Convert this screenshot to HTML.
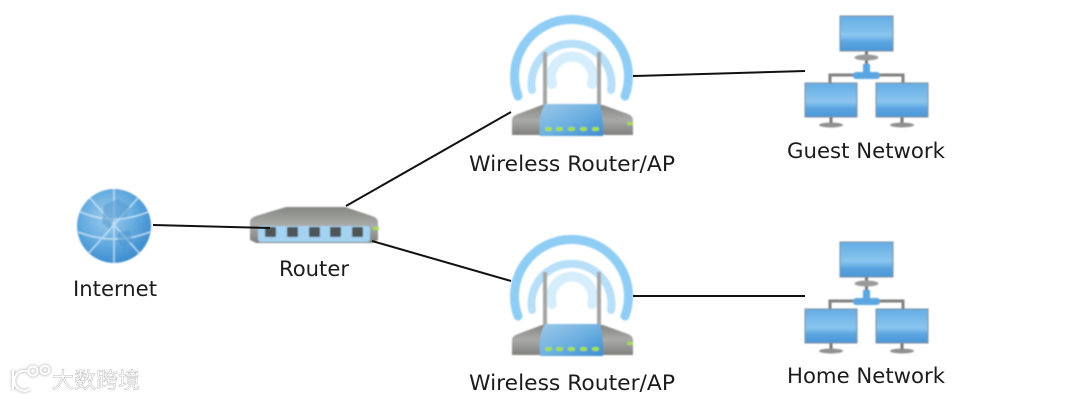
<!DOCTYPE html>
<html>
<head>
<meta charset="utf-8">
<style>
html,body{margin:0;padding:0;background:#fff}
svg{display:block}
text{font-family:"DejaVu Sans","Liberation Sans",sans-serif;font-size:21px;fill:#1c1c1c}
.wm{font-family:"Liberation Sans","Noto Sans CJK SC",sans-serif;font-size:22px;fill:#fff;stroke:#bdbdbd;stroke-width:.5px}
</style>
</head>
<body>
<svg width="1080" height="400" viewBox="0 0 1080 400" xmlns="http://www.w3.org/2000/svg">
<defs>
<filter id="b" x="-10%" y="-10%" width="120%" height="120%"><feGaussianBlur stdDeviation="0.7"/></filter>
<filter id="s" x="-10%" y="-30%" width="120%" height="160%"><feGaussianBlur stdDeviation="1"/></filter>
<linearGradient id="mon" x1="0" y1="0" x2="0" y2="1"><stop offset="0" stop-color="#62ace4"/><stop offset=".55" stop-color="#8ac5ee"/><stop offset=".75" stop-color="#5aa4df"/><stop offset="1" stop-color="#4a97d8"/></linearGradient>
<linearGradient id="gray" x1="0" y1="0" x2="0" y2="1"><stop offset="0" stop-color="#858683"/><stop offset=".5" stop-color="#a9aaa7"/><stop offset="1" stop-color="#7f807e"/></linearGradient>
<linearGradient id="blue" x1="0" y1="0" x2="1" y2="1"><stop offset="0" stop-color="#9cc8e8"/><stop offset=".55" stop-color="#6aaee0"/><stop offset="1" stop-color="#3c8cd0"/></linearGradient>
<radialGradient id="globe" cx=".42" cy=".38" r=".65"><stop offset="0" stop-color="#a0cdec"/><stop offset=".6" stop-color="#5fa8de"/><stop offset="1" stop-color="#3a8acf"/></radialGradient>
<g id="ap" filter="url(#b)">
<path d="M518 96A57 57 0 1 1 625 96" fill="none" stroke="#8fcdf5" stroke-width="9" stroke-linecap="round"/>
<path d="M532 90A40 40 0 1 1 611 90" fill="none" stroke="#b7dff8" stroke-width="8" stroke-linecap="round"/>
<path d="M552 84A21 21 0 1 1 592 84" fill="none" stroke="#d6edfb" stroke-width="10" stroke-linecap="round"/>
<rect x="543" y="52" width="4" height="56" fill="#a5a6a5"/>
<rect x="597" y="52" width="4" height="56" fill="#a5a6a5"/>
<path d="M512 120Q512 116 518 114L542 105H603L628 114Q633 116 633 120V135H512Z" fill="url(#gray)"/>
<path d="M545 104H600Q604 120 603 136H540Q538 115 545 104Z" fill="url(#blue)"/>
<g fill="#a4e04a">
<rect x="545" y="127" width="7" height="4" rx="2"/><rect x="556" y="127" width="7" height="4" rx="2"/><rect x="568" y="127" width="7" height="4" rx="2"/><rect x="580" y="127" width="7" height="4" rx="2"/><rect x="592" y="127" width="7" height="4" rx="2"/>
<rect x="627" y="122" width="6" height="3" rx="1.500"/>
</g>
</g>
<g id="net" filter="url(#b)">
<path d="M830 83V75H903V83" fill="none" stroke="#7f7f7f" stroke-width="3"/>
<rect x="865" y="50" width="3" height="15" fill="#777"/>
<ellipse cx="866.500" cy="57.500" rx="12" ry="3" fill="#999"/>
<rect x="863" y="64" width="7" height="9" fill="#5aa6e0"/>
<rect x="853" y="72" width="27" height="7" rx="3" fill="#5aa6e0"/>
<rect x="840" y="16" width="53" height="35" fill="url(#mon)" stroke="#7f8c95"/>
<rect x="829.500" y="117" width="3" height="8" fill="#777"/>
<ellipse cx="831" cy="125" rx="12" ry="2.500" fill="#8f8f8f"/>
<rect x="900.500" y="117" width="3" height="8" fill="#777"/>
<ellipse cx="902" cy="125" rx="12" ry="2.500" fill="#8f8f8f"/>
<rect x="805" y="83" width="52" height="34" fill="url(#mon)" stroke="#7f8c95"/>
<rect x="876" y="83" width="52" height="34" fill="url(#mon)" stroke="#7f8c95"/>
</g>
</defs>

<rect width="1080" height="400" fill="#fff"/>

<g filter="url(#b)">
<circle cx="114" cy="226" r="37" fill="url(#globe)"/>
<g fill="none" stroke="#cfe8f8" stroke-width="1.500" opacity=".8">
<path d="M80 212Q114 226 148 212M78 232Q114 246 150 232M90 198L140 254M138 198L88 254M114 189V263"/>
</g>
<path d="M104 205l14-6 12 8-4 10-12 2-4 10-8-6zM118 232l12-2 2 10-8 10-6-8z" fill="#4d93cd" opacity=".5"/>
</g>

<g filter="url(#b)">
<path d="M250 222Q250 218 256 216L286 207H345L372 216Q378 218 378 222V240L372 243H256L250 240Z" fill="url(#gray)"/>
<rect x="258" y="226" width="112" height="16" rx="3" fill="#a4d2f1"/>
<g fill="#4e5459">
<rect x="265" y="227" width="11" height="10" rx="1"/><rect x="287" y="227" width="11" height="10" rx="1"/><rect x="309" y="227" width="11" height="10" rx="1"/><rect x="330" y="227" width="11" height="10" rx="1"/><rect x="352" y="227" width="11" height="10" rx="1"/>
</g>
<rect x="373" y="227" width="6" height="3" fill="#a4e04a"/>
</g>

<use href="#ap"/>
<use href="#ap" y="220"/>
<use href="#net"/>
<use href="#net" y="226"/>

<g stroke="#111" stroke-width="2" fill="none">
<line x1="153" y1="225" x2="270" y2="228"/>
<line x1="346" y1="206" x2="511" y2="112"/>
<line x1="372" y1="241" x2="511" y2="281"/>
<line x1="633" y1="76" x2="805" y2="71"/>
<line x1="633" y1="296" x2="805" y2="296"/>
</g>

<text x="469" y="171" textLength="206" lengthAdjust="spacingAndGlyphs">Wireless Router/AP</text>
<text x="469" y="390" textLength="206" lengthAdjust="spacingAndGlyphs">Wireless Router/AP</text>
<text x="787" y="158" textLength="158" lengthAdjust="spacingAndGlyphs">Guest Network</text>
<text x="787" y="383" textLength="158" lengthAdjust="spacingAndGlyphs">Home Network</text>
<text x="279" y="276" textLength="70" lengthAdjust="spacingAndGlyphs">Router</text>
<text x="73" y="296" textLength="84" lengthAdjust="spacingAndGlyphs">Internet</text>

<g fill="none" stroke="#cfcfcf" stroke-width="4" filter="url(#s)">
<path d="M13 370V390"/>
<path d="M29 372A10 10 0 1 0 30 389"/>
<circle cx="33" cy="371" r="4.500"/>
<ellipse cx="45" cy="370" rx="4.500" ry="4"/>
</g>
<g fill="none" stroke="#fff" stroke-width="2">
<path d="M13 370V390"/>
<path d="M29 372A10 10 0 1 0 30 389"/>
<circle cx="33" cy="371" r="4.500"/>
<ellipse cx="45" cy="370" rx="4.500" ry="4"/>
</g>
<text class="wm" x="52" y="388" textLength="88">大数跨境</text>
</svg>
</body>
</html>
